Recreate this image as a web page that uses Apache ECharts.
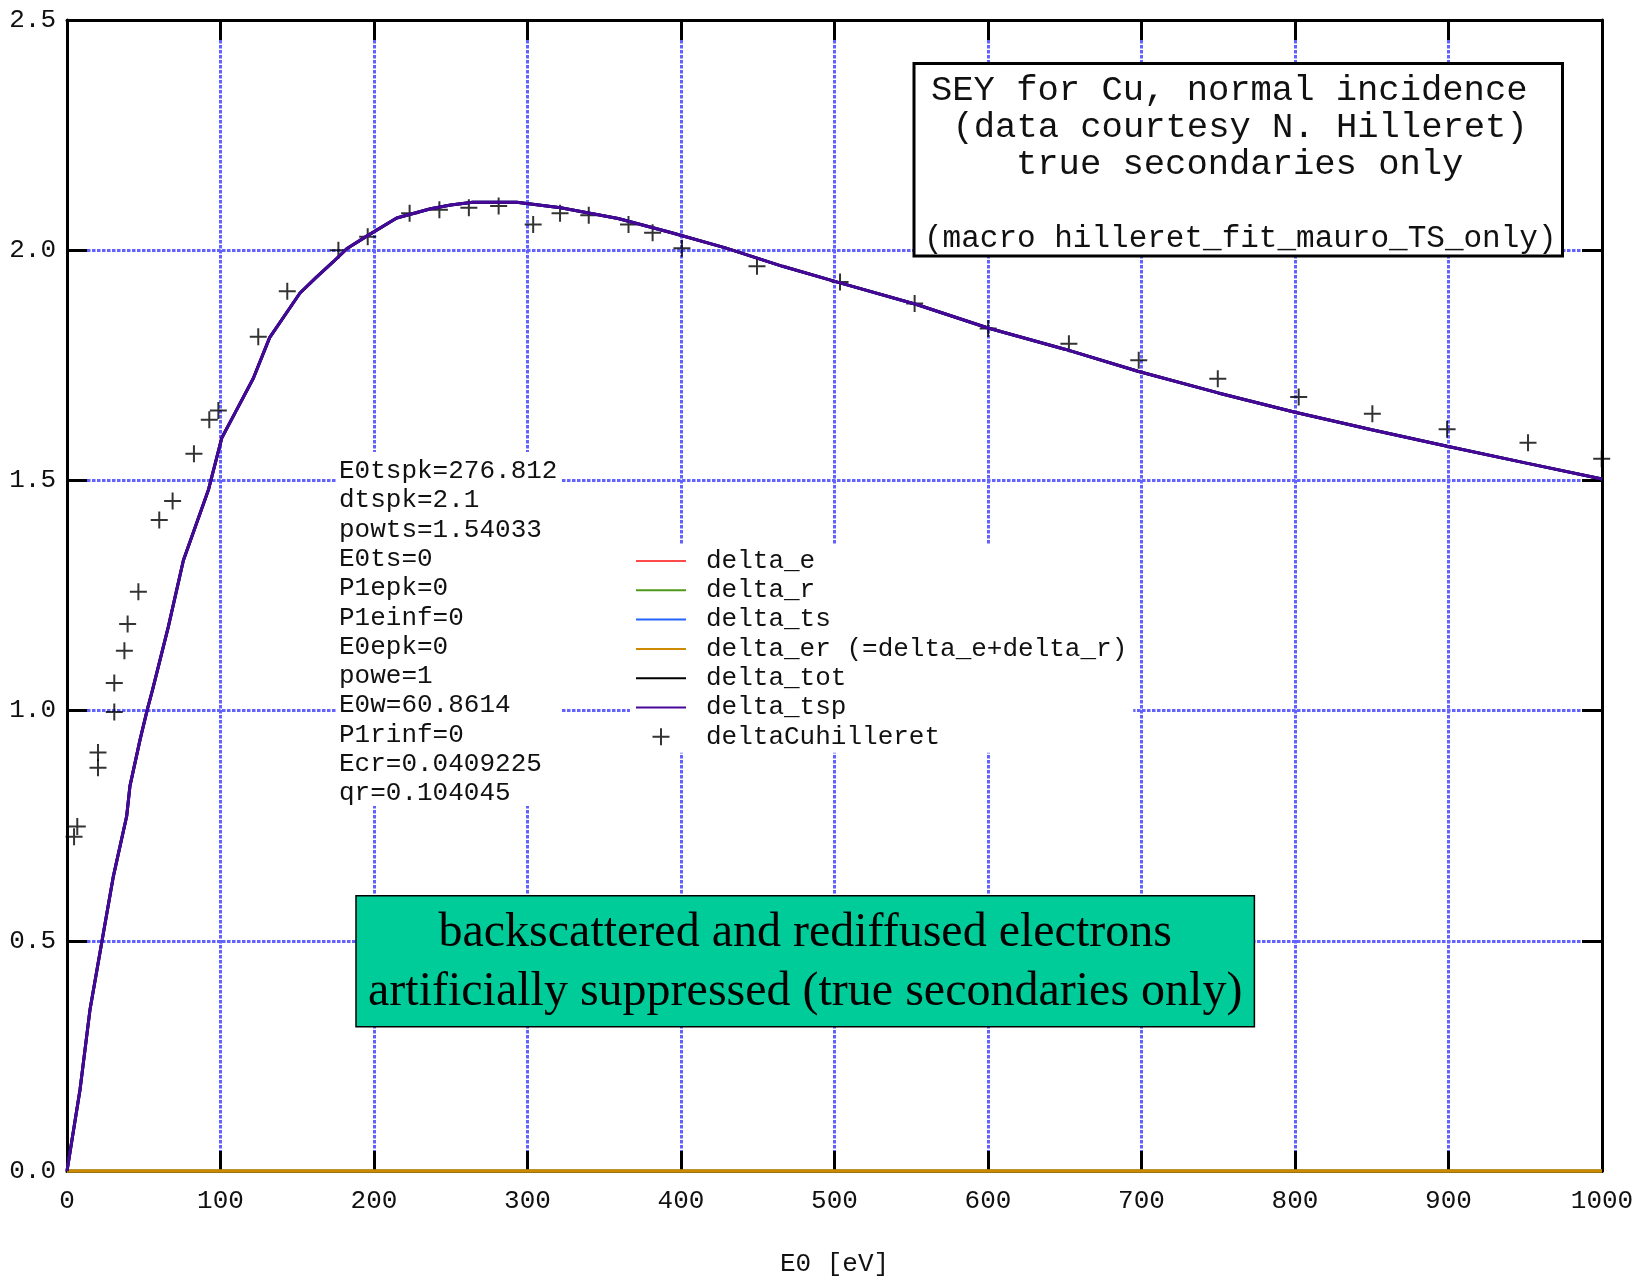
<!DOCTYPE html>
<html>
<head>
<meta charset="utf-8">
<script src="https://cdn.jsdelivr.net/npm/echarts@6/dist/echarts.min.js"></script>
<style>
  html, body { margin: 0; padding: 0; background: #ffffff; }
  #chart { width: 1646px; height: 1280px; }
</style>
</head>
<body>
<div id="chart"></div>
<script>
// ---- data ----
const E_fit = [0, 8.5, 15, 22.6, 30.2, 38.9, 41, 47.6, 52.3, 55.8, 66, 75.8, 92.1, 100.8, 110, 121.4, 132, 151.8, 162, 173.5, 182.2, 195, 214.8, 236.9, 250, 264.3, 293, 321.6, 359, 393.9, 428.9, 466.2, 503.6, 553.5, 600, 650, 697.6, 750, 800, 850, 899.1, 950, 1000];
const delta_tsp_vals = [0, 0.177, 0.351, 0.496, 0.640, 0.771, 0.836, 0.937, 1.002, 1.046, 1.182, 1.326, 1.479, 1.592, 1.650, 1.722, 1.810, 1.907, 1.940, 1.975, 2.003, 2.030, 2.070, 2.090, 2.098, 2.104, 2.104, 2.092, 2.069, 2.038, 2.005, 1.965, 1.929, 1.882, 1.831, 1.785, 1.737, 1.690, 1.648, 1.610, 1.574, 1.538, 1.503];
// delta_ts and delta_tot lie exactly under delta_tsp in the picture
const delta_ts_vals = [0, 0.177, 0.351, 0.496, 0.640, 0.771, 0.836, 0.937, 1.002, 1.046, 1.182, 1.326, 1.479, 1.592, 1.650, 1.722, 1.810, 1.907, 1.940, 1.975, 2.003, 2.030, 2.070, 2.090, 2.098, 2.104, 2.104, 2.092, 2.069, 2.038, 2.005, 1.965, 1.929, 1.882, 1.831, 1.785, 1.737, 1.690, 1.648, 1.610, 1.574, 1.538, 1.503];
const delta_tot_vals = [0, 0.177, 0.351, 0.496, 0.640, 0.771, 0.836, 0.937, 1.002, 1.046, 1.182, 1.326, 1.479, 1.592, 1.650, 1.722, 1.810, 1.907, 1.940, 1.975, 2.003, 2.030, 2.070, 2.090, 2.098, 2.104, 2.104, 2.092, 2.069, 2.038, 2.005, 1.965, 1.929, 1.882, 1.831, 1.785, 1.737, 1.690, 1.648, 1.610, 1.574, 1.538, 1.503];
const E_zero = [0, 1000];
const delta_e_vals = [0, 0];
const delta_r_vals = [0, 0];
const delta_er_vals = [0, 0];

const E_meas = [4.6, 6.7, 20.2, 20.2, 30.8, 30.8, 37.4, 39.5, 46.5, 60.1, 68.8, 82.7, 92.7, 98.6, 124.6, 143.5, 176.8, 195.9, 223.2, 242.6, 261.8, 281.2, 303.7, 321.2, 339.9, 365.8, 381.5, 400.6, 449.5, 503.6, 552.2, 600.1, 652.7, 698.2, 749.7, 802.4, 850.4, 899.1, 951.8, 999.8];
const deltaCu_vals = [0.726, 0.748, 0.876, 0.909, 0.997, 1.060, 1.130, 1.188, 1.258, 1.414, 1.455, 1.558, 1.632, 1.652, 1.812, 1.911, 2.000, 2.029, 2.080, 2.088, 2.092, 2.096, 2.056, 2.080, 2.076, 2.056, 2.038, 2.004, 1.965, 1.931, 1.884, 1.830, 1.797, 1.761, 1.721, 1.681, 1.645, 1.611, 1.582, 1.547];

const seriesNames = ['delta_e', 'delta_r', 'delta_ts', 'delta_er (=delta_e+delta_r)', 'delta_tot', 'delta_tsp', 'deltaCuhilleret'];
const paramLabels = ['E0tspk=276.812', 'dtspk=2.1', 'powts=1.54033', 'E0ts=0', 'P1epk=0', 'P1einf=0', 'E0epk=0', 'powe=1', 'E0w=60.8614', 'P1rinf=0', 'Ecr=0.0409225', 'qr=0.104045'];
const titleLines = ['SEY for Cu, normal incidence', '(data courtesy N. Hilleret)', 'true secondaries only'];
const macroLine = '(macro hilleret_fit_mauro_TS_only)';
const noteLines = ['backscattered and rediffused electrons', 'artificially suppressed (true secondaries only)'];
const xAxisTitle = 'E0 [eV]';

// ---- chart ----
const MONO = '"Liberation Mono", "DejaVu Sans Mono", monospace';
const SERIF = '"Liberation Serif", "DejaVu Serif", serif';
const zip = (xs, ys) => xs.map((x, i) => [x, ys[i]]);

const chart = echarts.init(document.getElementById('chart'), null, { renderer: 'canvas' });

const axisLineStyle = () => ({ show: true, onZero: false, lineStyle: { color: '#000', width: 3 } });
const tickInside = () => ({ show: true, inside: true, length: 20, lineStyle: { color: '#000', width: 3 } });
const gridDots = () => ({ show: true, lineStyle: { color: '#6262ff', width: 3, type: [3.5, 1.5] } });

function lineSeries(name, xs, ys, color, width) {
  return {
    name: name, type: 'line', data: zip(xs, ys), xAxisIndex: 0, yAxisIndex: 0,
    symbol: 'none', showSymbol: false, smooth: false, clip: false,
    lineStyle: { color: color, width: width }, itemStyle: { color: color },
    emphasis: { disabled: true }
  };
}

// legend sample: a 50 x 2 px bar
const thinBar = 'path://M0,0H25V1H0Z';
const legendData = seriesNames.map((n, i) => (i < 6 ? { name: n, icon: thinBar } : { name: n }));

const option = {
  animation: false,
  backgroundColor: '#ffffff',
  grid: { left: 67, top: 20, width: 1535, height: 1151, containLabel: false, outerBoundsMode: 'none' },
  xAxis: [
    {
      type: 'value', min: 0, max: 1000, interval: 100, position: 'bottom',
      axisLine: axisLineStyle(), axisTick: tickInside(), splitLine: gridDots(),
      axisLabel: { show: true, margin: 17, color: '#111', fontFamily: MONO, fontSize: 26,
        formatter: v => String(v) },
      name: xAxisTitle, nameLocation: 'middle', nameGap: 80,
      nameTextStyle: { color: '#111', fontFamily: MONO, fontSize: 26 }
    },
    {
      type: 'value', min: 0, max: 1000, interval: 100, position: 'top',
      axisLine: axisLineStyle(), axisTick: tickInside(), splitLine: { show: false },
      axisLabel: { show: false }
    }
  ],
  yAxis: [
    {
      type: 'value', min: 0, max: 2.5, interval: 0.5, position: 'left',
      axisLine: axisLineStyle(), axisTick: tickInside(), splitLine: gridDots(),
      axisLabel: { show: true, margin: 11, color: '#111', fontFamily: MONO, fontSize: 26,
        formatter: v => v.toFixed(1) }
    },
    {
      type: 'value', min: 0, max: 2.5, interval: 0.5, position: 'right',
      axisLine: axisLineStyle(), axisTick: tickInside(), splitLine: { show: false },
      axisLabel: { show: false }
    }
  ],
  legend: {
    orient: 'vertical', left: 630, top: 545,
    padding: [3, 6, 3, 6],
    backgroundColor: '#ffffff',
    itemWidth: 50, itemHeight: 17, itemGap: 3.3,
    selectedMode: false,
    data: legendData,
    lineStyle: { width: 2 },
    textStyle: { fontFamily: MONO, fontSize: 26, lineHeight: 26, color: '#111', padding: [0, 0, 0, 15] }
  },
  series: [
    lineSeries(seriesNames[0], E_zero, delta_e_vals, '#ff4a4a', 3),
    lineSeries(seriesNames[1], E_zero, delta_r_vals, '#4f9a1c', 3),
    lineSeries(seriesNames[2], E_fit, delta_ts_vals, '#2464ff', 3),
    lineSeries(seriesNames[3], E_zero, delta_er_vals, '#cc8a00', 3),
    lineSeries(seriesNames[4], E_fit, delta_tot_vals, '#000000', 3),
    lineSeries(seriesNames[5], E_fit, delta_tsp_vals, '#47089a', 3),
    {
      name: seriesNames[6], type: 'scatter', data: zip(E_meas, deltaCu_vals),
      xAxisIndex: 0, yAxisIndex: 0, clip: false,
      symbol: 'path://M0,5L10,5M5,0L5,10', symbolSize: 17,
      itemStyle: { color: 'rgba(0,0,0,0)', borderColor: '#000', borderWidth: 2 },
      emphasis: { disabled: true }
    }
  ],
  graphic: [
    // parameter block
    { type: 'rect', left: 337, top: 452, shape: { width: 225, height: 354 },
      style: { fill: '#ffffff' }, z: 50 },
    { type: 'text', x: 339, y: 456.5, z: 51,
      style: { text: paramLabels.join('\n'), font: '26px ' + MONO, lineHeight: 29.3,
        fill: '#111', textAlign: 'left', textVerticalAlign: 'top' } },
    // title box
    { type: 'rect', x: 914, y: 63.5, shape: { width: 648.5, height: 192.5 },
      style: { fill: '#ffffff', stroke: '#000', lineWidth: 3 }, z: 50 },
    { type: 'text', x: 931, y: 90.5, z: 51,
      style: { text: titleLines[0], font: '35.5px ' + MONO, fill: '#111', textAlign: 'left', textVerticalAlign: 'middle' } },
    { type: 'text', x: 952.5, y: 128, z: 51,
      style: { text: titleLines[1], font: '35.5px ' + MONO, fill: '#111', textAlign: 'left', textVerticalAlign: 'middle' } },
    { type: 'text', x: 1016, y: 165, z: 51,
      style: { text: titleLines[2], font: '35.5px ' + MONO, fill: '#111', textAlign: 'left', textVerticalAlign: 'middle' } },
    { type: 'text', x: 924, y: 238.5, z: 51,
      style: { text: macroLine, font: '31px ' + MONO, fill: '#111', textAlign: 'left', textVerticalAlign: 'middle' } },
    // green note box
    { type: 'rect', x: 356, y: 895.7, shape: { width: 898.4, height: 131 },
      style: { fill: '#00cc99', stroke: '#000', lineWidth: 1.5 }, z: 50 },
    { type: 'text', x: 805.2, y: 933, z: 51,
      style: { text: noteLines[0], font: '48px ' + SERIF, fill: '#000', textAlign: 'center', textVerticalAlign: 'middle' } },
    { type: 'text', x: 805.2, y: 992, z: 51,
      style: { text: noteLines[1], font: '48px ' + SERIF, fill: '#000', textAlign: 'center', textVerticalAlign: 'middle' } }
  ]
};

chart.setOption(option);
</script>
</body>
</html>
